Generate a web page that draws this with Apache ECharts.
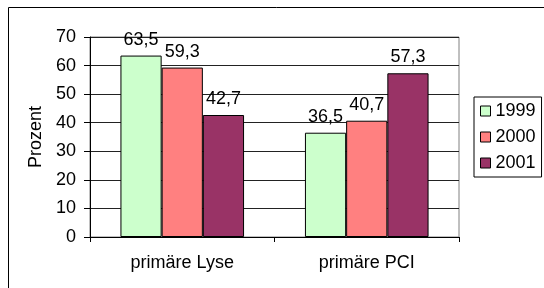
<!DOCTYPE html>
<html>
<head>
<meta charset="utf-8">
<script src="https://cdn.jsdelivr.net/npm/echarts@6/dist/echarts.min.js"></script>
<style>
  html, body { margin: 0; padding: 0; background: #fff; }
  #chart { width: 544px; height: 288px; }
</style>
</head>
<body>
<div id="chart"></div>
<script>
// Daten
var categories = ['primäre Lyse', 'primäre PCI'];
var years = ['1999', '2000', '2001'];
var values1999 = [63.5, 36.5];
var values2000 = [59.3, 40.7];
var values2001 = [42.7, 57.3];
var colors = ['#CCFFCC', '#FF8080', '#993366'];

var font = 'Liberation Sans, Arial, sans-serif';
var fs = 18;
var myChart = echarts.init(document.getElementById('chart'));

function fmt(p) {
    return String(p.value).replace('.', ',');
}

function makeSeries(name, data, color) {
    return {
        name: name,
        type: 'bar',
        data: data,
        barGap: '0%',
        barCategoryGap: '33%',
        itemStyle: { color: color, borderColor: '#000', borderWidth: 1 },
        label: {
            show: true,
            position: 'top',
            distance: 7,
            color: '#000',
            fontFamily: font,
            fontSize: fs,
            formatter: fmt
        }
    };
}

var option = {
    animation: false,
    textStyle: { fontFamily: font },
    graphic: [
        {
            type: 'rect',
            shape: { x: 8.5, y: 7.5, width: 600, height: 300 },
            style: { fill: null, stroke: '#000', lineWidth: 1 },
            silent: true,
            z: -10
        }
    ],
    grid: {
        left: 90, top: 37, right: 85, bottom: 51,
        show: true, borderColor: '#808080', borderWidth: 1
    },
    legend: {
        orient: 'vertical',
        left: 474, top: 97,
        data: years,
        icon: 'rect',
        itemWidth: 10, itemHeight: 10,
        itemGap: 8,
        padding: [5, 6, 5, 6],
        borderColor: '#000', borderWidth: 1,
        itemStyle: { borderColor: '#000', borderWidth: 1 },
        textStyle: { color: '#000', fontFamily: font, fontSize: fs, lineHeight: 18 }
    },
    xAxis: {
        type: 'category',
        data: categories,
        axisLine: { lineStyle: { color: '#000' } },
        axisTick: { show: true, length: 5, alignWithLabel: false, lineStyle: { color: '#000' } },
        axisLabel: { color: '#000', fontFamily: font, fontSize: fs, margin: 17 }
    },
    yAxis: {
        type: 'value',
        min: 0, max: 70, interval: 10,
        name: 'Prozent',
        nameLocation: 'middle',
        nameGap: 43,
        nameRotate: 90,
        nameTextStyle: { color: '#000', fontFamily: font, fontSize: fs },
        axisLine: { show: true, lineStyle: { color: '#000' } },
        axisTick: { show: true, length: 6, lineStyle: { color: '#000' } },
        axisLabel: { color: '#000', fontFamily: font, fontSize: fs, margin: 14 },
        splitLine: { show: true, lineStyle: { color: '#222' } }
    },
    series: [
        makeSeries(years[0], values1999, colors[0]),
        makeSeries(years[1], values2000, colors[1]),
        makeSeries(years[2], values2001, colors[2])
    ]
};

myChart.setOption(option);
</script>
</body>
</html>
